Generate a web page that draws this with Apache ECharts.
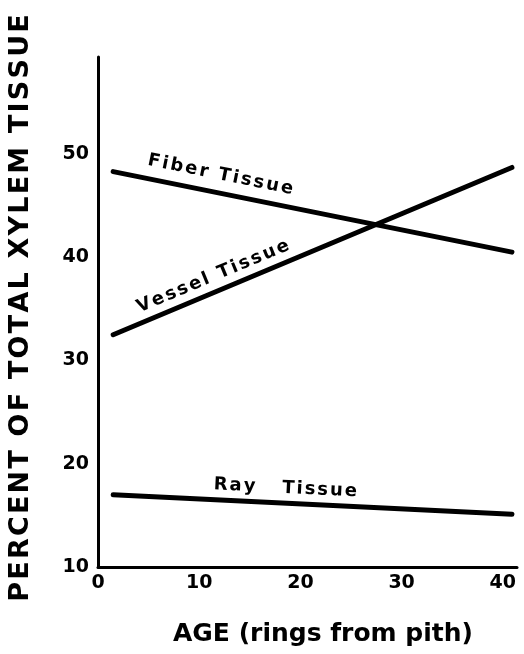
<!DOCTYPE html>
<html><head><meta charset="utf-8">
<script src="https://cdn.jsdelivr.net/npm/echarts@6/dist/echarts.min.js"></script>
<style>html,body{margin:0;padding:0;background:#fff}#c{width:524px;height:654px}</style>
</head><body><div id="c"></div>
<script>
// ---- data ----
const ages = [1.5, 40.9];
const fiberTissue = [48.3, 40.5];
const vesselTissue = [32.5, 48.7];
const rayTissue = [17.0, 15.1];
const xTicks = [0, 10, 20, 30, 40];
const yTicks = [10, 20, 30, 40, 50];
const seriesNames = ['Fiber Tissue', 'Vessel Tissue', 'Ray Tissue'];
const yTitle = 'PERCENT OF TOTAL XYLEM TISSUE';
const xTitle = 'AGE (rings from pith)';

const FAM = '"DejaVu Sans", sans-serif';
const chart = echarts.init(document.getElementById('c'), null, {renderer: 'canvas'});
const pairs = vals => ages.map((a, i) => [a, vals[i]]);

function lineSeries(name, vals) {
  return {
    name, type: 'line', data: pairs(vals), symbol: 'none', silent: true,
    lineStyle: {color: '#000', width: 5, cap: 'round'}
  };
}

chart.setOption({
  animation: false,
  backgroundColor: '#fff',
  grid: {left: 98, right: 7, top: 57, bottom: 87, outerBoundsMode: 'none'},
  xAxis: {
    type: 'value', min: 0, max: 41.4, interval: 10,
    axisLine: {lineStyle: {color: '#000', width: 3}},
    axisTick: {show: false}, splitLine: {show: false},
    axisLabel: {color: '#000', fontFamily: FAM, fontWeight: 'bold', fontSize: 19, margin: 7,
      showMaxLabel: false, formatter: v => xTicks.includes(v) ? String(v) : ''}
  },
  yAxis: {
    type: 'value', min: 10, max: 59.4, interval: 10,
    axisLine: {lineStyle: {color: '#000', width: 3}},
    axisTick: {show: false}, splitLine: {show: false},
    axisLabel: {color: '#000', fontFamily: FAM, fontWeight: 'bold', fontSize: 19, margin: 9,
      showMaxLabel: false, formatter: v => yTicks.includes(v) ? String(v) : ''}
  },
  series: [
    lineSeries(seriesNames[0], fiberTissue),
    lineSeries(seriesNames[1], vesselTissue),
    lineSeries(seriesNames[2], rayTissue)
  ]
});

// ---- letter-spaced text built from single glyphs ----
const mctx = document.createElement('canvas').getContext('2d');
function spaced(text, size, spacing, italic, cx, cy, rotation) {
  const font = (italic ? 'italic ' : '') + 'bold ' + size + 'px ' + FAM;
  mctx.font = font;
  const chars = [...text];
  const widths = chars.map(ch => mctx.measureText(ch).width);
  const total = widths.reduce((a, b) => a + b, 0) + spacing * (chars.length - 1);
  let x = -total / 2;
  const children = [];
  chars.forEach((ch, i) => {
    if (ch !== ' ') children.push({type: 'text', x: x, y: 0,
      style: {text: ch, font: font, fill: '#000', align: 'left', verticalAlign: 'middle',
              textAlign: 'left', textVerticalAlign: 'middle'}});
    x += widths[i] + spacing;
  });
  return {type: 'group', x: cx, y: cy, rotation: rotation, children, silent: true};
}

function lineLabel(si, vals, t, d, text, size, spacing) {
  const p1 = chart.convertToPixel({seriesIndex: si}, [ages[0], vals[0]]);
  const p2 = chart.convertToPixel({seriesIndex: si}, [ages[1], vals[1]]);
  const dx = p2[0] - p1[0], dy = p2[1] - p1[1];
  const len = Math.hypot(dx, dy);
  const ux = dx / len, uy = dy / len;
  const px = p1[0] + t * dx, py = p1[1] + t * dy;
  const cx = px + d * uy, cy = py - d * ux;
  return spaced(text, size, spacing, false, cx, cy, -Math.atan2(dy, dx));
}

chart.setOption({
  graphic: [
    lineLabel(0, fiberTissue, 0.26, 18, seriesNames[0], 18, 2.2),
    lineLabel(1, vesselTissue, 0.265, 15, seriesNames[1], 18, 2.2),
    lineLabel(2, rayTissue, 0.43, 15, seriesNames[2].replace(' ', '   '), 18, 2),
    spaced(yTitle, 27, 2.2, false, 21, 308, Math.PI / 2),
    spaced(xTitle, 25, 0, false, 323, 634, 0)
  ]
});
</script></body></html>
